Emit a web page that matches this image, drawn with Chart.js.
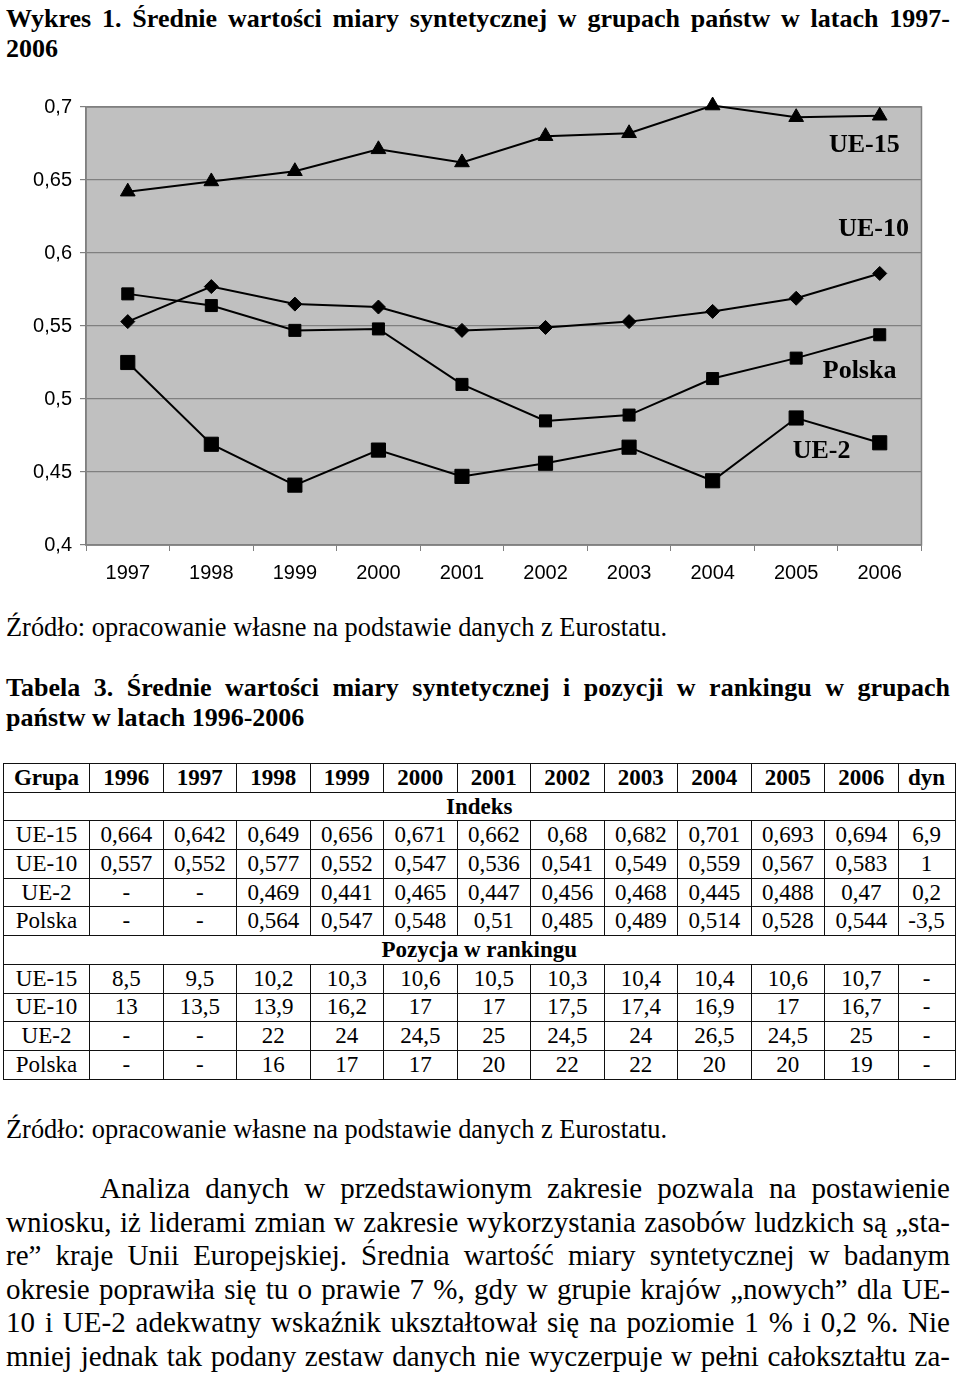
<!DOCTYPE html>
<html>
<head>
<meta charset="utf-8">
<script src="https://cdn.jsdelivr.net/npm/chart.js@4"></script>
<style>
  body { margin:0; width:960px; height:1377px; background:#fff; position:relative; overflow:hidden; font-family:"Liberation Serif", serif; color:#000; }
  .blk { position:absolute; left:6px; width:944px; font-size:26px; line-height:30px; }
  .src { font-size:26.4px; }
  .bold { font-weight:bold; }
  .jl { text-align:justify; text-align-last:justify; }
  #chartBox { position:absolute; left:0; top:87px; width:960px; height:508px; }
  #tab { position:absolute; left:3px; top:763px; border-collapse:collapse; table-layout:fixed; font-size:23px; }
  #tab td { border:1.5px solid #111; padding:0; text-align:center; height:27.7px; line-height:24px; white-space:nowrap; }
  #tab .head td { font-weight:bold; }
  #tab td.sec { font-weight:bold; }
  #para { position:absolute; left:6px; top:1172px; width:944px; font-size:29px; line-height:33.6px; }
  #para div { text-align:justify; text-align-last:justify; }
</style>
</head>
<body>
<div class="blk bold" style="top:4px">
  <div class="jl">Wykres 1. Średnie wartości miary syntetycznej w grupach państw w latach 1997-</div>
  <div>2006</div>
</div>

<div id="chartBox"><canvas id="wykres"></canvas></div>

<div class="blk src" style="top:612px">Źródło: opracowanie własne na podstawie danych z Eurostatu.</div>

<div class="blk bold" style="top:673px">
  <div class="jl">Tabela 3. Średnie wartości miary syntetycznej i pozycji w rankingu w grupach</div>
  <div>państw w latach 1996-2006</div>
</div>

<table id="tab"></table>

<div class="blk src" style="top:1114px">Źródło: opracowanie własne na podstawie danych z Eurostatu.</div>

<div id="para">
  <div style="text-indent:94px">Analiza danych w przedstawionym zakresie pozwala na postawienie</div>
  <div>wniosku, iż liderami zmian w zakresie wykorzystania zasobów ludzkich są „sta-</div>
  <div>re” kraje Unii Europejskiej. Średnia wartość miary syntetycznej w badanym</div>
  <div>okresie poprawiła się tu o prawie 7 %, gdy w grupie krajów „nowych” dla UE-</div>
  <div>10 i UE-2 adekwatny wskaźnik ukształtował się na poziomie 1 % i 0,2 %. Nie</div>
  <div>mniej jednak tak podany zestaw danych nie wyczerpuje w pełni całokształtu za-</div>
</div>

<script>
// wykres
const years = ['1997','1998','1999','2000','2001','2002','2003','2004','2005','2006'];
const ue15 = [0.642, 0.649, 0.656, 0.671, 0.662, 0.680, 0.682, 0.701, 0.693, 0.694];
const ue10 = [0.553, 0.577, 0.565, 0.563, 0.547, 0.549, 0.553, 0.560, 0.569, 0.586];
const polska = [0.572, 0.564, 0.547, 0.548, 0.510, 0.485, 0.489, 0.514, 0.528, 0.544];
const ue2 = [0.525, 0.469, 0.441, 0.465, 0.447, 0.456, 0.467, 0.444, 0.487, 0.470];

const seriesNames = ['UE-15', 'UE-10', 'Polska', 'UE-2'];

// tabela
const tableYears = ['1996','1997','1998','1999','2000','2001','2002','2003','2004','2005','2006'];
const groups = ['UE-15', 'UE-10', 'UE-2', 'Polska'];
const indeks = [
  ['0,664','0,642','0,649','0,656','0,671','0,662','0,68','0,682','0,701','0,693','0,694','6,9'],
  ['0,557','0,552','0,577','0,552','0,547','0,536','0,541','0,549','0,559','0,567','0,583','1'],
  ['-','-','0,469','0,441','0,465','0,447','0,456','0,468','0,445','0,488','0,47','0,2'],
  ['-','-','0,564','0,547','0,548','0,51','0,485','0,489','0,514','0,528','0,544','-3,5']
];
const ranking = [
  ['8,5','9,5','10,2','10,3','10,6','10,5','10,3','10,4','10,4','10,6','10,7','-'],
  ['13','13,5','13,9','16,2','17','17','17,5','17,4','16,9','17','16,7','-'],
  ['-','-','22','24','24,5','25','24,5','24','26,5','24,5','25','-'],
  ['-','-','16','17','17','20','22','22','20','20','19','-']
];

function buildTable() {
  const tab = document.getElementById('tab');
  let html = '<colgroup><col style="width:86px">';
  tableYears.forEach(() => { html += '<col style="width:73.5px">'; });
  html += '<col style="width:57px"></colgroup>';
  html += '<tr class="head"><td>Grupa</td>' + tableYears.map(y => '<td>' + y + '</td>').join('') + '<td>dyn</td></tr>';
  const ncol = tableYears.length + 2;
  html += '<tr><td class="sec" colspan="' + ncol + '">Indeks</td></tr>';
  groups.forEach((g, i) => {
    html += '<tr><td>' + g + '</td>' + indeks[i].map(v => '<td>' + v + '</td>').join('') + '</tr>';
  });
  html += '<tr><td class="sec" colspan="' + ncol + '">Pozycja w rankingu</td></tr>';
  groups.forEach((g, i) => {
    html += '<tr><td>' + g + '</td>' + ranking[i].map(v => '<td>' + v + '</td>').join('') + '</tr>';
  });
  tab.innerHTML = html;
}
buildTable();

// where the series names sit, in axis units (category index, value)
const nameAt = [[9.24, 0.6735], [9.35, 0.616], [9.2, 0.519], [8.65, 0.464]];

const plotBg = {
  id: 'plotBg',
  beforeDraw(chart) {
    const a = chart.chartArea, ctx = chart.ctx;
    ctx.save();
    ctx.fillStyle = '#c0c0c0';
    ctx.fillRect(a.left, a.top, a.right - a.left, a.bottom - a.top);
    ctx.restore();
  },
  beforeDatasetsDraw(chart) {
    const a = chart.chartArea, ctx = chart.ctx;
    ctx.save();
    ctx.strokeStyle = '#808080';
    ctx.lineWidth = 1.5;
    ctx.strokeRect(a.left, a.top, a.right - a.left, a.bottom - a.top);
    ctx.restore();
  },
  afterDatasetsDraw(chart) {
    const ctx = chart.ctx;
    const xs = chart.scales.x, ys = chart.scales.y;
    ctx.save();
    ctx.font = 'bold 26px "Liberation Serif"';
    ctx.fillStyle = '#000';
    ctx.textAlign = 'right';
    ctx.textBaseline = 'middle';
    seriesNames.forEach((n, i) => {
      ctx.fillText(n, xs.getPixelForValue(nameAt[i][0]), ys.getPixelForValue(nameAt[i][1]));
    });
    ctx.restore();
  }
};

function line(label, data, style, radius) {
  return {
    label: label,
    data: data,
    borderColor: '#000',
    borderWidth: 2,
    backgroundColor: '#000',
    pointStyle: style,
    pointRadius: radius,
    pointBackgroundColor: '#000',
    pointBorderColor: '#000',
    pointBorderWidth: 1,
    tension: 0,
    clip: false
  };
}

const ctx = document.getElementById('wykres').getContext('2d');
new Chart(ctx, {
  type: 'line',
  data: {
    labels: years,
    datasets: [
      line('UE-15', ue15, 'triangle', 8.5),
      line('UE-10', ue10, 'rectRot', 7),
      line('Polska', polska, 'rect', 8.5),
      line('UE-2', ue2, 'rect', 10)
    ]
  },
  options: {
    responsive: true,
    maintainAspectRatio: false,
    animation: false,
    layout: { padding: { top: 20, right: 38.5, bottom: 5, left: 0 } },
    plugins: { legend: { display: false }, tooltip: { enabled: false } },
    scales: {
      x: {
        offset: true,
        afterFit(scale) { scale.height = 45; },
        grid: { offset: true, drawOnChartArea: false, drawTicks: true, tickLength: 6, color: '#808080' },
        border: { color: '#808080', width: 1.5 },
        ticks: { color: '#000', padding: 10, font: { family: '"Liberation Sans"', size: 20 }, maxRotation: 0 }
      },
      y: {
        min: 0.4,
        max: 0.7,
        afterFit(scale) { scale.width = 86; },
        grid: { color: '#808080', lineWidth: 1.2, tickLength: 6 },
        border: { color: '#808080', width: 1.5 },
        ticks: {
          stepSize: 0.05,
          color: '#000',
          padding: 8,
          font: { family: '"Liberation Sans"', size: 20 },
          callback: v => String(Math.round(v * 100) / 100).replace('.', ',')
        }
      }
    }
  },
  plugins: [plotBg]
});
</script>
</body>
</html>
